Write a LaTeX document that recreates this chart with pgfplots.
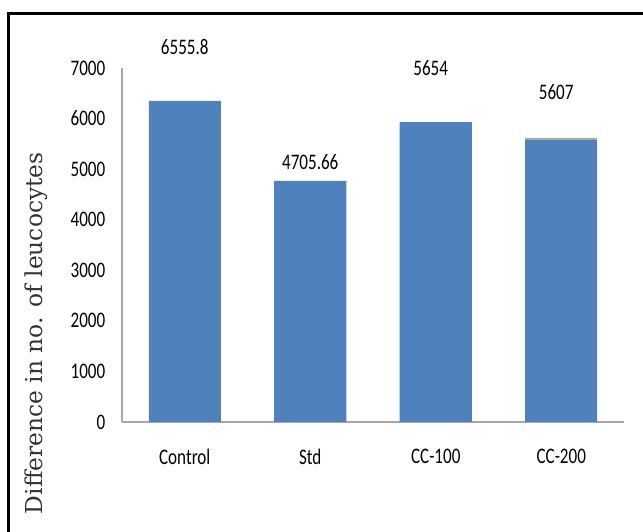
\documentclass[border=0pt]{standalone}
\usepackage{pgfplots}
\pgfplotsset{compat=1.18}
\usepackage{fontspec}
\setmainfont{Carlito}
\newfontfamily\labelfont{DejaVu Serif}
\definecolor{barblue}{HTML}{4F81BD}
\definecolor{bargreen}{HTML}{9BBB59}
\begin{document}
\begin{tikzpicture}
\useasboundingbox (0pt,0pt) rectangle (482.25pt,399pt);
\draw[line width=2.4pt] (6.5pt,-10pt) -- (6.5pt,389pt) -- (495pt,389pt);
\node[rotate=90,font=\labelfont\fontsize{17.5}{17.5}\selectfont,text=black!80] at (27.5pt,149pt) {Difference in no. of leucocytes};
\begin{axis}[
  at={(91.5pt,82.5pt)}, anchor=south west,
  scale only axis, width=376.5pt, height=265.5pt,
  ybar stacked, bar width=54pt,
  xmin=-0.5, xmax=3.5, ymin=0, ymax=7000,
  xtick={0,1,2,3}, xticklabels={Control,Std,CC-100,CC-200},
  ytick={0,1000,...,7000},
  axis x line*=bottom, axis y line*=left,
  axis line style={gray!70, line width=0.8pt, -},
  major tick length=0pt,
  /pgf/number format/assume math mode=true,
  /pgf/number format/1000 sep={},
  tick label style={font=\fontsize{12.8}{12.8}\selectfont, yscale=1.3},
  xticklabel style={yshift=-12pt},
  yticklabel style={xshift=-9pt},
  clip=false,
]
\addplot[fill=barblue, draw=none] coordinates {(0,6350) (1,4770) (2,5930) (3,5590)};
\addplot[fill=bargreen, draw=none] coordinates {(0,0) (1,0) (2,0) (3,35)};
\node[font=\fontsize{12.8}{12.8}\selectfont, yscale=1.3] at (axis cs:0,7420) {6555.8};
\node[font=\fontsize{12.8}{12.8}\selectfont, yscale=1.3] at (axis cs:1,5130) {4705.66};
\node[font=\fontsize{12.8}{12.8}\selectfont, yscale=1.3] at (axis cs:1.96,7000) {5654};
\node[font=\fontsize{12.8}{12.8}\selectfont, yscale=1.3] at (axis cs:2.96,6520) {5607};
\end{axis}
\end{tikzpicture}
\end{document}
